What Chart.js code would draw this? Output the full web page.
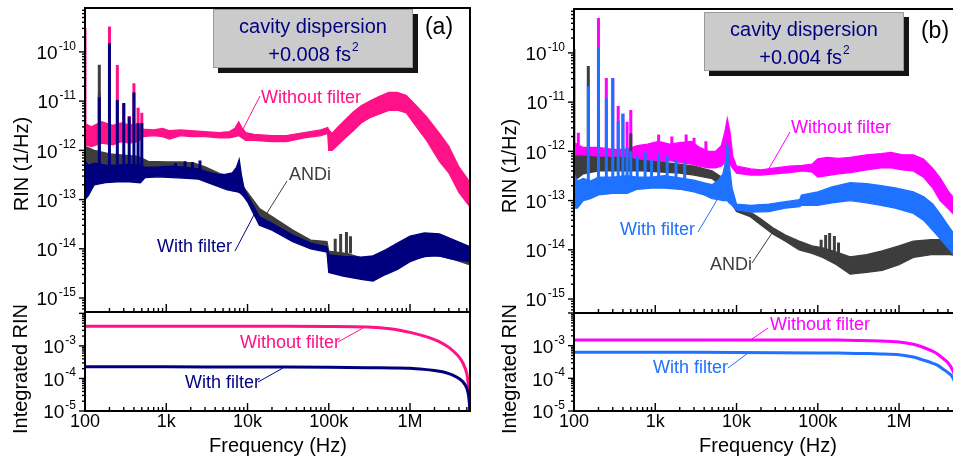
<!DOCTYPE html>
<html>
<head>
<meta charset="utf-8">
<title>RIN spectra</title>
<script src="https://cdn.jsdelivr.net/npm/chart.js@4.4.0/dist/chart.umd.min.js"></script>
<style>
  html, body { margin: 0; padding: 0; background: #fff; width: 953px; height: 461px; overflow: hidden; }
  canvas { position: absolute; left: 0; top: 0; }
</style>
</head>
<body>
<canvas id="rinA" width="953" height="461"></canvas>
<canvas id="intA" width="953" height="461"></canvas>
<canvas id="rinB" width="970" height="461"></canvas>
<canvas id="intB" width="970" height="461"></canvas>
<script>
// ---- panel (a), +0.008 fs^2 : RIN envelopes (1/Hz) ----
const hzA_without = [100,120,160,220,280,350,450,520,700,900,1100,1500,2000,3000,4500,6000,7000,7800,8500,9500,12000,20000,30000,50000,80000,97000,100000,110000,130000,160000,200000,250000,320000,420000,550000,700000,900000,1200000,1600000,2300000,3000000,4000000,5500000];
const hiA_without = [3.5e-12,3.0e-12,3.8e-12,3.2e-12,3.6e-12,3.3e-12,3.4e-12,2.7e-12,2.6e-12,2.8e-12,2.5e-12,2.6e-12,2.5e-12,2.4e-12,2.3e-12,2.4e-12,2.8e-12,3.8e-12,2.9e-12,2.3e-12,2.1e-12,2.0e-12,2.0e-12,2.3e-12,2.6e-12,2.9e-12,2.6e-12,2.2e-12,3.0e-12,4.2e-12,6.0e-12,8.0e-12,1.0e-11,1.25e-11,1.5e-11,1.5e-11,1.3e-11,8.0e-12,4.8e-12,2.2e-12,1.2e-12,4.6e-13,2.2e-13];
const loA_without = [1.3e-12,1.2e-12,1.4e-12,1.3e-12,1.5e-12,1.4e-12,1.5e-12,1.9e-12,2.0e-12,1.9e-12,1.7e-12,2.0e-12,1.9e-12,1.9e-12,1.8e-12,1.8e-12,1.9e-12,2.0e-12,1.8e-12,1.6e-12,1.6e-12,1.5e-12,1.5e-12,1.8e-12,2.0e-12,2.2e-12,1.0e-12,1.0e-12,1.3e-12,1.8e-12,2.5e-12,3.6e-12,4.6e-12,5.5e-12,6.5e-12,6.6e-12,5.8e-12,3.0e-12,1.6e-12,6.0e-13,3.5e-13,1.4e-13,7.0e-14];

const hzA_with = [100,110,130,180,250,350,480,550,800,1200,1800,2500,3500,4500,5500,6500,7300,7900,8400,9000,10000,14000,20000,36000,60000,95000,100000,150000,250000,350000,500000,700000,1000000,1500000,2300000,3500000,5500000];
const hiA_with = [6e-13,5e-13,5.5e-13,5e-13,5e-13,5.2e-13,5e-13,4.5e-13,4.6e-13,4.8e-13,4.5e-13,4.2e-13,3.5e-13,3.2e-13,3.3e-13,3.5e-13,4.5e-13,6.5e-13,3.2e-13,1.8e-13,1.2e-13,4.5e-14,3.3e-14,1.9e-14,1.3e-14,1.1e-14,7.5e-15,7.0e-15,6.8e-15,7.2e-15,9.5e-15,1.3e-14,1.8e-14,2.1e-14,2.0e-14,1.5e-14,1.1e-14];
const loA_with = [1.0e-13,1.2e-13,2.0e-13,2.2e-13,2.3e-13,2.3e-13,2.2e-13,2.8e-13,2.9e-13,2.8e-13,2.7e-13,2.6e-13,2.1e-13,1.8e-13,1.6e-13,1.5e-13,1.45e-13,1.4e-13,1.3e-13,1.15e-13,9e-14,3.0e-14,2.4e-14,1.4e-14,1.0e-14,8.6e-15,3.3e-15,2.8e-15,2.4e-15,2.2e-15,3.0e-15,3.8e-15,5.5e-15,7.0e-15,7.2e-15,6.0e-15,5.5e-15];

const hzA_andi = [100,130,200,300,450,600,1000,1500,2200,3000,4500,6000,7500,10000,14000,20000,36000,60000,95000,100000,170000,300000,600000,1000000,2000000,3500000,5500000];
const hiA_andi = [1.2e-12,1.0e-12,8.5e-13,8.0e-13,7.5e-13,6.0e-13,5.8e-13,5.8e-13,5.5e-13,4.6e-13,3.4e-13,2.9e-13,2.5e-13,1.4e-13,6.6e-14,4.5e-14,2.4e-14,1.5e-14,1.4e-14,9e-15,8e-15,6e-15,8e-15,1.2e-14,1.4e-14,1.2e-14,8e-15];
const loA_andi = [3e-13,4.5e-13,4.5e-13,4.5e-13,4.5e-13,4.2e-13,4.0e-13,4.0e-13,3.8e-13,3.3e-13,2.4e-13,2.1e-13,1.8e-13,1.1e-13,4.8e-14,3.3e-14,1.8e-14,1.2e-14,1.0e-14,4.5e-15,4.5e-15,3.2e-15,4.2e-15,6.0e-15,7.5e-15,6.0e-15,4.7e-15];

// mains harmonics and other narrow lines
const harmonicHz = [100,150,200,250,300,350,400,450,500];
const peakA_without = [3.0e-10,1.5e-11,3.3e-10,5.4e-11,9e-12,5e-12,2.3e-11,7.3e-12,5.8e-12];
const peakA_with = [null,1.2e-11,1.5e-10,1.06e-11,9.2e-12,4.8e-12,1.5e-11,3.6e-12,3.6e-12];
const peakA_andi = [null,5.5e-11,null,null,null,null,null,null,null];
const burstHzA_with = [1300,1700,2100,2600];
const burstA_with = [5.5e-13,6e-13,5.8e-13,6.2e-13];
const burstHzA_andi = [120000,140000,165000,185000];
const burstA_andi = [1.6e-14,2.0e-14,2.2e-14,1.8e-14];

// ---- panel (b), +0.004 fs^2 ----
const hzB_without = [100,130,200,300,450,600,800,1100,1500,2000,2800,3500,4500,5500,6500,7200,7700,8300,9000,10000,15000,20000,30000,45000,65000,85000,100000,130000,180000,250000,400000,600000,800000,1100000,1500000,2000000,2600000,3200000,4000000,5500000];
const hiB_without = [1.5e-12,1.2e-12,1.2e-12,1.1e-12,1.1e-12,1.3e-12,1.4e-12,1.6e-12,1.4e-12,1.5e-12,1.6e-12,1.2e-12,1.0e-12,1.0e-12,1.3e-12,2.5e-12,4.6e-12,2.5e-12,8e-13,5.0e-13,4.4e-13,4.2e-13,4.6e-13,5.0e-13,5.2e-13,5.5e-13,7.0e-13,7.5e-13,7.2e-13,7.5e-13,8.5e-13,9.0e-13,9.5e-13,8.5e-13,8.5e-13,7.0e-13,4.5e-13,2.9e-13,1.6e-13,8e-14];
const loB_without = [6e-13,5.5e-13,5.5e-13,5.5e-13,5.5e-13,6e-13,6e-13,6e-13,6.5e-13,6e-13,5.5e-13,5e-13,4.6e-13,4.6e-13,5e-13,6e-13,7e-13,5.5e-13,4.5e-13,3.6e-13,3.3e-13,3.3e-13,3.5e-13,3.7e-13,4.0e-13,3.8e-13,3.0e-13,3.2e-13,3.5e-13,3.7e-13,4.2e-13,4.6e-13,4.6e-13,4.2e-13,4.0e-13,3.0e-13,1.8e-13,1.0e-13,7e-14,4e-14];

const hzB_with = [100,110,130,160,200,300,450,600,900,1300,2000,3000,4000,5000,6000,6800,7300,7700,8100,8800,10000,15000,25000,40000,60000,63000,100000,150000,250000,400000,600000,900000,1500000,2000000,2600000,3300000,4200000,5500000];
const hiB_with = [3.5e-13,2.5e-13,2.8e-13,2.5e-13,3.0e-13,3.0e-13,3.2e-13,3.0e-13,3.0e-13,3.2e-13,2.9e-13,2.6e-13,2.3e-13,2.1e-13,2.6e-13,3.5e-13,6.0e-13,1.6e-12,6.0e-13,1.8e-13,8.5e-14,8.0e-14,8.5e-14,9.5e-14,1.05e-13,1.3e-13,1.5e-13,1.9e-13,2.3e-13,2.2e-13,2.0e-13,1.8e-13,1.5e-13,1.2e-13,8.5e-14,5.0e-14,2.8e-14,1.5e-14];
const loB_with = [7e-14,7e-14,1.0e-13,1.1e-13,1.3e-13,1.4e-13,1.4e-13,1.7e-13,1.8e-13,1.8e-13,1.7e-13,1.5e-13,1.3e-13,1.1e-13,1.05e-13,1.0e-13,1.0e-13,1.0e-13,9e-14,8e-14,6.5e-14,5.8e-14,6.0e-14,7.0e-14,7.5e-14,8.0e-14,8.0e-14,9e-14,1.0e-13,9.0e-14,8.0e-14,7.0e-14,5.5e-14,4.0e-14,2.5e-14,1.6e-14,1.0e-14,6e-15];

const hzB_andi = [100,130,200,400,700,1200,2000,3000,5000,7000,9000,10000,14500,20000,28000,40000,59000,85000,115000,170000,250000,400000,620000,1000000,1500000,2500000,4200000,5500000];
const hiB_andi = [8e-13,8e-13,7.5e-13,7.5e-13,6.5e-13,6.0e-13,5.5e-13,5.0e-13,4.0e-13,2.8e-13,1.1e-13,7.5e-14,6.0e-14,4.2e-14,2.8e-14,2.0e-14,1.5e-14,1.2e-14,1.1e-14,9e-15,7.2e-15,8e-15,9.5e-15,1.2e-14,1.5e-14,1.6e-14,1.6e-14,1.4e-14];
const loB_andi = [2.5e-13,3.5e-13,4.0e-13,4.0e-13,4.0e-13,3.8e-13,3.6e-13,3.3e-13,2.8e-13,1.8e-13,8e-14,6e-14,4.8e-14,3.2e-14,2.1e-14,1.5e-14,1.0e-14,8.5e-15,7e-15,5e-15,3.2e-15,3.5e-15,3.8e-15,5e-15,7e-15,8e-15,8e-15,7.5e-15];

const peakB_without = [1.2e-10,null,5.1e-10,3.1e-11,3.1e-11,8.3e-12,5.8e-12,4e-12,6.9e-12];
const peakB_with = [null,2.1e-11,1.3e-10,1.2e-11,3.1e-11,4.1e-12,5.8e-12,1.2e-12,1.0e-12];
const peakB_andi = [null,5.4e-11,null,null,null,null,null,null,2.3e-12];
const burstHzB_without = [113,1100,1600,2400,3000,4200];
const burstB_without = [2.4e-12,2.2e-12,2.0e-12,2.2e-12,1.9e-12,1.6e-12];
const burstHzB_with = [600,750,900,1100,1400,1800,2300];
const burstB_with = [8e-13,1.0e-12,7e-13,9e-13,8e-13,7e-13,6e-13];
const burstHzB_andi = [110000,125000,140000,160000,180000];
const burstB_andi = [1.6e-14,2.0e-14,2.2e-14,1.9e-14,1.4e-14];

// ---- integrated RIN ----
const intHz = [100,1000,10000,100000,300000,600000,1000000,1500000,2000000,2500000,3000000,3500000,4000000,4500000,5000000,5300000,5450000];
const intA_without = [4.0e-3,4.0e-3,4.0e-3,3.95e-3,3.8e-3,3.3e-3,2.6e-3,2.0e-3,1.55e-3,1.2e-3,9e-4,6.5e-4,4.6e-4,2.9e-4,1.4e-4,4e-5,1e-5];
const intA_with = [2.3e-4,2.28e-4,2.25e-4,2.2e-4,2.15e-4,2.1e-4,2.05e-4,1.9e-4,1.75e-4,1.6e-4,1.4e-4,1.2e-4,1.0e-4,7.8e-5,5e-5,2.5e-5,1e-5];
const intB_without = [1.5e-3,1.5e-3,1.5e-3,1.5e-3,1.45e-3,1.4e-3,1.3e-3,1.1e-3,8.8e-4,7e-4,5.5e-4,4.0e-4,3.0e-4,1.9e-4,1.0e-4,4e-5,1e-5];
const intB_with = [6.3e-4,6.3e-4,6.2e-4,6.0e-4,5.8e-4,5.6e-4,5.3e-4,4.5e-4,3.6e-4,3.0e-4,2.5e-4,1.9e-4,1.5e-4,1.15e-4,6e-5,2.5e-5,1e-5];

const xTickHz = [100,1000,10000,100000,1000000];
const xTickLabels = ['100','1k','10k','100k','1M'];

const FONT = '"Liberation Sans", Arial, sans-serif';
const PINK = '#ff1187', NAVY = '#00007f', GRAY = '#3d3d3d';
const MAGENTA = '#ff00ff', BLUE = '#1f72ff';
const X_MIN = 100, X_MAX = 5.47e6;

function pts(hz, vals) {
  return hz.map((f, i) => ({ x: f, y: vals[i] }));
}

// vertical strokes from a floor level up to each peak value
function strokes(hz, tops, base) {
  const out = [];
  hz.forEach((f, i) => {
    if (tops[i] == null) return;
    out.push({ x: f, y: base }, { x: f, y: tops[i] }, { x: f, y: null });
  });
  return out;
}

// one spectrum = narrow lines on top of a filled noise band
function trace(color, hz, hi, lo, lines) {
  return [
    { data: lines, borderColor: color, borderWidth: 3, spanGaps: false },
    { data: pts(hz, hi), borderColor: color, borderWidth: 1.3, fill: false },
    { data: pts(hz, lo), borderColor: color, borderWidth: 1.3, backgroundColor: color, fill: '-1' }
  ];
}

function seg(ctx, x1, y1, x2, y2) {
  ctx.beginPath(); ctx.moveTo(x1, y1); ctx.lineTo(x2, y2); ctx.stroke();
}

function powLabel(ctx, exp, xRight, y) {
  const sup = String(exp);
  ctx.font = '12px ' + FONT;
  const sw = ctx.measureText(sup).width;
  ctx.font = '19px ' + FONT;
  const bw = ctx.measureText('10').width;
  ctx.textAlign = 'left';
  ctx.textBaseline = 'middle';
  ctx.fillText('10', xRight - sw - bw - 1, y + 2);
  ctx.font = '12px ' + FONT;
  ctx.textBaseline = 'alphabetic';
  ctx.fillText(sup, xRight - sw, y - 2);
}

function axesPlugin(deco) {
  return {
    id: 'axesFrame',
    afterDraw(chart) {
      const { ctx, chartArea: a, scales: { x, y } } = chart;
      ctx.save();
      ctx.strokeStyle = '#000';
      ctx.fillStyle = '#000';
      ctx.lineWidth = 1.4;
      // x ticks point up into the plot
      for (let e = 2; e <= 6; e++) {
        for (let m = 1; m < 10; m++) {
          const v = m * Math.pow(10, e);
          if (v > x.max) break;
          const px = x.getPixelForValue(v);
          seg(ctx, px, a.bottom, px, a.bottom - (m === 1 ? 8 : 4));
        }
      }
      // y ticks sit outside the left edge
      const e0 = Math.floor(Math.log10(y.min)), e1 = Math.ceil(Math.log10(y.max));
      for (let e = e0; e <= e1; e++) {
        for (let m = 1; m < 10; m++) {
          const v = m * Math.pow(10, e);
          if (v < y.min * 0.999 || v > y.max) continue;
          const py = y.getPixelForValue(v);
          seg(ctx, a.left - (m === 1 ? 6 : 3), py, a.left, py);
          if (m === 1 && py > a.top + 8) powLabel(ctx, e, a.left - 9, py);
        }
      }
      ctx.lineWidth = 2;
      ctx.strokeRect(a.left, a.top, a.right - a.left, a.bottom - a.top);

      if (deco.xLabels) {
        ctx.font = '18px ' + FONT;
        ctx.textAlign = 'center';
        ctx.textBaseline = 'middle';
        xTickHz.forEach((f, i) => ctx.fillText(xTickLabels[i], x.getPixelForValue(f), a.bottom + 11));
        ctx.font = '20px ' + FONT;
        ctx.fillText('Frequency (Hz)', deco.xTitle[0], deco.xTitle[1]);
      }

      // rotated y title
      ctx.save();
      ctx.translate(deco.yTitle[1], deco.yTitle[2]);
      ctx.rotate(-Math.PI / 2);
      ctx.font = '20px ' + FONT;
      ctx.textAlign = 'center';
      ctx.textBaseline = 'middle';
      ctx.fillStyle = '#000';
      ctx.fillText(deco.yTitle[0], 0, 0);
      ctx.restore();

      // curve names with leader lines
      ctx.font = '18px ' + FONT;
      ctx.textAlign = 'left';
      ctx.textBaseline = 'middle';
      ctx.lineWidth = 1;
      (deco.notes || []).forEach(n => {
        ctx.fillStyle = n.color;
        ctx.strokeStyle = n.color;
        ctx.fillText(n.text, n.x, n.y);
        seg(ctx, n.line[0], n.line[1], n.line[2], n.line[3]);
      });

      // dispersion box and panel letter
      if (deco.box) {
        const b = deco.box;
        ctx.fillStyle = '#141414';
        ctx.fillRect(b.x + 5, b.y + 5, b.w, b.h);
        ctx.fillStyle = '#cbcbcb';
        ctx.fillRect(b.x, b.y, b.w, b.h);
        ctx.strokeStyle = '#9a9a9a';
        ctx.lineWidth = 1;
        ctx.strokeRect(b.x + 0.5, b.y + 0.5, b.w - 1, b.h - 1);
        const cx = b.x + b.w / 2;
        ctx.fillStyle = '#000080';
        ctx.textAlign = 'center';
        ctx.textBaseline = 'middle';
        ctx.font = '20px ' + FONT;
        ctx.fillText('cavity dispersion', cx, b.y + 18);
        const main = b.value + ' fs';
        const mw = ctx.measureText(main).width;
        ctx.font = '12px ' + FONT;
        const sw = ctx.measureText('2').width;
        const left = cx - (mw + sw) / 2;
        ctx.textAlign = 'left';
        ctx.font = '20px ' + FONT;
        ctx.fillText(main, left, b.y + 46);
        ctx.font = '12px ' + FONT;
        ctx.textBaseline = 'alphabetic';
        ctx.fillText('2', left + mw + 1, b.y + 42);

        ctx.fillStyle = '#000';
        ctx.font = '23px ' + FONT;
        ctx.textAlign = 'center';
        ctx.textBaseline = 'middle';
        ctx.fillText(deco.letter[0], deco.letter[1], deco.letter[2]);
      }
      ctx.restore();
    }
  };
}

function makeChart(id, area, yRange, datasets, deco) {
  const cv = document.getElementById(id);
  return new Chart(cv, {
    type: 'line',
    data: { datasets },
    options: {
      responsive: false,
      animation: false,
      events: [],
      layout: { padding: { left: area[0], top: area[1], right: cv.width - area[2], bottom: cv.height - area[3] } },
      scales: {
        x: { type: 'logarithmic', min: X_MIN, max: X_MAX, display: false },
        y: { type: 'logarithmic', min: yRange[0], max: yRange[1], display: false }
      },
      elements: { point: { radius: 0 }, line: { tension: 0 } },
      plugins: { legend: { display: false }, tooltip: { enabled: false } }
    },
    plugins: [axesPlugin(deco)]
  });
}

// panel (a), spectra
makeChart('rinA', [85, 8, 470, 312], [5.2e-16, 7.8e-10], [
  ...trace(NAVY, hzA_with, hiA_with, loA_with,
    strokes(harmonicHz, peakA_with, 3.5e-13).concat(strokes(burstHzA_with, burstA_with, 3.5e-13))),
  ...trace(GRAY, hzA_andi, hiA_andi, loA_andi,
    strokes(harmonicHz, peakA_andi, 5e-13).concat(strokes(burstHzA_andi, burstA_andi, 8e-15))),
  ...trace(PINK, hzA_without, hiA_without, loA_without,
    strokes(harmonicHz, peakA_without, 2.5e-12))
], {
  yTitle: ['RIN (1/Hz)', 22, 164],
  notes: [
    { text: 'Without filter', color: PINK, x: 261, y: 98, line: [260, 96, 243, 129] },
    { text: 'ANDi', color: GRAY, x: 289, y: 175, line: [287, 181, 267, 213] },
    { text: 'With filter', color: NAVY, x: 157, y: 247, line: [235, 251, 255, 213] }
  ],
  box: { x: 213, y: 9, w: 200, h: 59, value: '+0.008' },
  letter: ['(a)', 439, 28]
});

// panel (a), integrated
makeChart('intA', [85, 312, 470, 411], [1e-5, 1.1e-2], [
  { data: pts(intHz, intA_with), borderColor: NAVY, borderWidth: 3, tension: 0.3 },
  { data: pts(intHz, intA_without), borderColor: PINK, borderWidth: 3, tension: 0.3 }
], {
  xLabels: true,
  xTitle: [278, 446],
  yTitle: ['Integrated RIN', 21, 369],
  notes: [
    { text: 'Without filter', color: PINK, x: 240, y: 343, line: [338, 342, 363, 328] },
    { text: 'With filter', color: NAVY, x: 185, y: 383, line: [258, 382, 283, 368] }
  ]
});

// panel (b), spectra
makeChart('rinB', [574, 9, 959, 313], [5.2e-16, 7.8e-10], [
  ...trace(BLUE, hzB_with, hiB_with, loB_with,
    strokes(harmonicHz, peakB_with, 2e-13).concat(strokes(burstHzB_with, burstB_with, 2e-13))),
  ...trace(GRAY, hzB_andi, hiB_andi, loB_andi,
    strokes(harmonicHz, peakB_andi, 5e-13).concat(strokes(burstHzB_andi, burstB_andi, 8e-15))),
  ...trace(MAGENTA, hzB_without, hiB_without, loB_without,
    strokes(harmonicHz, peakB_without, 8e-13).concat(strokes(burstHzB_without, burstB_without, 8e-13)))
], {
  yTitle: ['RIN (1/Hz)', 510, 166],
  notes: [
    { text: 'Without filter', color: MAGENTA, x: 791, y: 128, line: [790, 132, 767, 172] },
    { text: 'With filter', color: BLUE, x: 620, y: 230, line: [698, 232, 717, 200] },
    { text: 'ANDi', color: GRAY, x: 710, y: 265, line: [752, 263, 772, 233] }
  ],
  box: { x: 704, y: 12, w: 200, h: 59, value: '+0.004' },
  letter: ['(b)', 935, 32]
});

// panel (b), integrated
makeChart('intB', [574, 313, 959, 411], [1e-5, 1.0e-2], [
  { data: pts(intHz, intB_with), borderColor: BLUE, borderWidth: 3, tension: 0.3 },
  { data: pts(intHz, intB_without), borderColor: MAGENTA, borderWidth: 3, tension: 0.3 }
], {
  xLabels: true,
  xTitle: [768, 446],
  yTitle: ['Integrated RIN', 510, 369],
  notes: [
    { text: 'Without filter', color: MAGENTA, x: 770, y: 325, line: [768, 328, 752, 339] },
    { text: 'With filter', color: BLUE, x: 653, y: 368, line: [728, 368, 748, 353] }
  ]
});
</script>
</body>
</html>
